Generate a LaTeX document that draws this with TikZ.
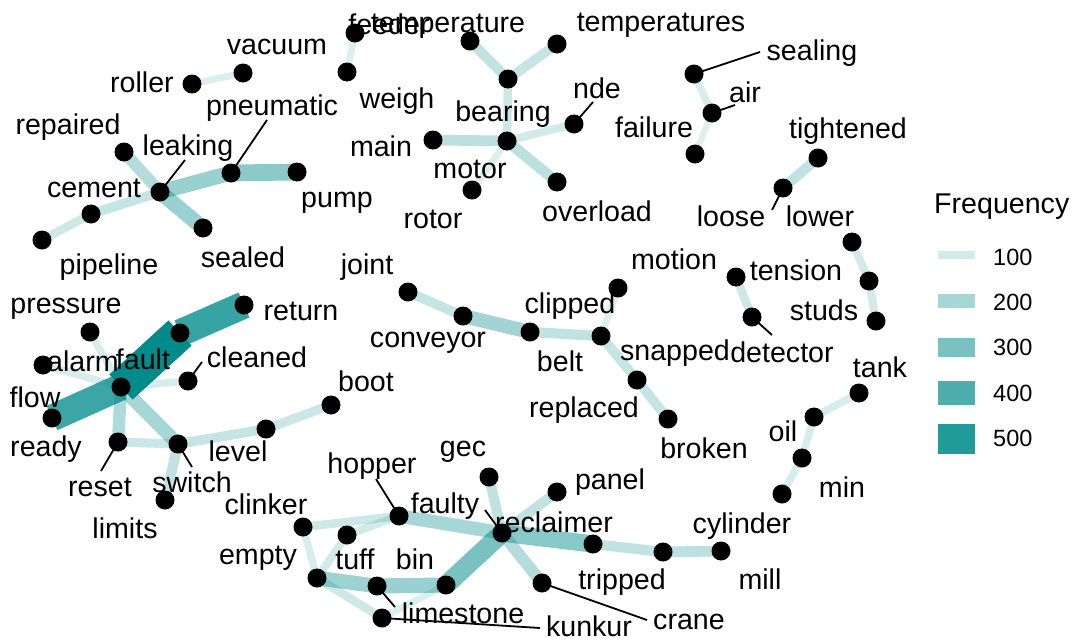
\documentclass[tikz,border=0pt]{standalone}
\usepackage{fontspec}
\setmainfont{Liberation Sans}
\definecolor{dc}{RGB}{0,139,139}
\begin{document}
\begin{tikzpicture}[x=1pt,y=-1pt,
  fq/.code={\pgfmathsetmacro\fqw{2.5+0.055*#1}\pgfmathsetmacro\fqo{min(1,0.00174*#1)}\edef\fqtmp{\noexpand\pgfkeysalso{/tikz/line width=\fqw pt,/tikz/draw opacity=\fqo}}\fqtmp},
  ed/.style={draw=dc,line cap=butt},
  pt/.style={circle,fill=black,inner sep=0pt,minimum size=19pt},
  lb/.style={inner sep=0pt,font=\fontsize{28.6}{30}\selectfont},
  lg/.style={inner sep=0pt,anchor=west,font=\fontsize{23.5}{25}\selectfont},
  ld/.style={draw=black,line width=1.8pt},
]
\fill[white] (0,0) rectangle (1077,640);
\useasboundingbox (0,0) rectangle (1077,640);
% ---------- node positions ----------
\coordinate (pipeline) at (42,240);
\coordinate (cement) at (91,214);
\coordinate (leaking) at (160,192);
\coordinate (pneumatic) at (231,173);
\coordinate (pump) at (297,172);
\coordinate (repaired) at (124,152);
\coordinate (sealed) at (203,228);
\coordinate (roller) at (192,84);
\coordinate (vacuum) at (243,73);
\coordinate (feeder) at (355,33);
\coordinate (weigh) at (347,72);
\coordinate (temperature) at (470,41);
\coordinate (temperatures) at (557,44);
\coordinate (bearing) at (508,79);
\coordinate (motor) at (507,141);
\coordinate (main) at (433,140);
\coordinate (nde) at (574,124);
\coordinate (rotor) at (472,190);
\coordinate (overload) at (557,182);
\coordinate (sealing) at (694,74);
\coordinate (air) at (712,113);
\coordinate (failure) at (695,154);
\coordinate (tightened) at (818,158);
\coordinate (loose) at (783,188);
\coordinate (lower) at (852,242);
\coordinate (lowerb) at (869,281);
\coordinate (studs) at (876,321);
\coordinate (tension) at (736,277);
\coordinate (detector) at (752,317);
\coordinate (tank) at (859,393);
\coordinate (oil) at (814,417);
\coordinate (minn) at (802,458);
\coordinate (cylinder) at (782,494);
\coordinate (joint) at (408,292);
\coordinate (conveyor) at (463,316);
\coordinate (belt) at (530,332);
\coordinate (clipped) at (601,336);
\coordinate (motion) at (618,288);
\coordinate (snapped) at (637,380);
\coordinate (broken) at (668,419);
\coordinate (return) at (244,305);
\coordinate (fault) at (180,333);
\coordinate (hubA) at (121,387);
\coordinate (pressure) at (90,332);
\coordinate (alarm) at (43,365);
\coordinate (cleaned) at (188,381);
\coordinate (ready) at (52,418);
\coordinate (reset) at (118,442);
\coordinate (switch) at (178,444);
\coordinate (limits) at (165,500);
\coordinate (level) at (266,429);
\coordinate (boot) at (331,405);
\coordinate (clinker) at (303,527);
\coordinate (hopper) at (399,516);
\coordinate (tuff) at (347,535);
\coordinate (empty) at (317,578);
\coordinate (bin) at (377,586);
\coordinate (limestone) at (446,585);
\coordinate (kunkur) at (382,618);
\coordinate (faulty) at (502,533);
\coordinate (gec) at (489,477);
\coordinate (panel) at (557,492);
\coordinate (recl) at (593,544);
\coordinate (millA) at (663,552);
\coordinate (mill) at (721,551);
\coordinate (crane) at (542,583);
% ---------- edges ----------
\draw[ed,fq=80] (roller) -- (vacuum);
\draw[ed,fq=80] (feeder) -- (weigh);
\draw[ed,fq=110] (pipeline) -- (cement);
\draw[ed,fq=130] (cement) -- (leaking);
\draw[ed,fq=230] (leaking) -- (pneumatic);
\draw[ed,fq=260] (pneumatic) -- (pump);
\draw[ed,fq=170] (repaired) -- (leaking);
\draw[ed,fq=230] (leaking) -- (sealed);
\draw[ed,fq=140] (temperature) -- (bearing);
\draw[ed,fq=130] (temperatures) -- (bearing);
\draw[ed,fq=110] (bearing) -- (motor);
\draw[ed,fq=150] (main) -- (motor);
\draw[ed,fq=100] (motor) -- (nde);
\draw[ed,fq=80] (motor) -- (rotor);
\draw[ed,fq=150] (motor) -- (overload);
\draw[ed,fq=90] (sealing) -- (air);
\draw[ed,fq=70] (air) -- (failure);
\draw[ed,fq=140] (loose) -- (tightened);
\draw[ed,fq=100] (lower) -- (lowerb);
\draw[ed,fq=100] (lowerb) -- (studs);
\draw[ed,fq=110] (tension) -- (detector);
\draw[ed,fq=90] (tank) -- (oil);
\draw[ed,fq=90] (oil) -- (minn);
\draw[ed,fq=90] (minn) -- (cylinder);
\draw[ed,fq=130] (joint) -- (conveyor);
\draw[ed,fq=210] (conveyor) -- (belt);
\draw[ed,fq=140] (belt) -- (clipped);
\draw[ed,fq=80] (clipped) -- (motion);
\draw[ed,fq=130] (clipped) -- (snapped);
\draw[ed,fq=130] (snapped) -- (broken);
\draw[ed,fq=90] (hubA) -- (pressure);
\draw[ed,fq=90] (hubA) -- (alarm);
\draw[ed,fq=90] (hubA) -- (cleaned);
\draw[ed,fq=180] (hubA) -- (reset);
\draw[ed,fq=200] (hubA) -- (switch);
\draw[ed,fq=120] (reset) -- (switch);
\draw[ed,fq=140] (switch) -- (limits);
\draw[ed,fq=130] (switch) -- (level);
\draw[ed,fq=120] (level) -- (boot);
\draw[ed,fq=450] (return) -- (fault);
\draw[ed,fq=440] (hubA) -- (ready);
\draw[ed,fq=575] (fault) -- (hubA);
\draw[ed,fq=110] (clinker) -- (hopper);
\draw[ed,fq=90] (clinker) -- (empty);
\draw[ed,fq=100] (tuff) -- (hopper);
\draw[ed,fq=100] (tuff) -- (empty);
\draw[ed,fq=220] (empty) -- (bin);
\draw[ed,fq=110] (empty) -- (kunkur);
\draw[ed,fq=230] (bin) -- (limestone);
\draw[ed,fq=80] (kunkur) -- (limestone);
\draw[ed,fq=300] (limestone) -- (faulty);
\draw[ed,fq=200] (hopper) -- (faulty);
\draw[ed,fq=140] (gec) -- (faulty);
\draw[ed,fq=140] (panel) -- (faulty);
\draw[ed,fq=270] (faulty) -- (recl);
\draw[ed,fq=140] (recl) -- (millA);
\draw[ed,fq=150] (millA) -- (mill);
\draw[ed,fq=170] (faulty) -- (crane);
% ---------- label leaders ----------
\coordinate (q-leaking) at (185,160);
\coordinate (q-pneumatic) at (267,120);
\coordinate (q-nde) at (593,102);
\coordinate (q-sealing) at (760,52);
\coordinate (q-air) at (735,105);
\coordinate (q-loose) at (772,210);
\coordinate (q-cleaned) at (202,362);
\coordinate (q-reset) at (101,471);
\coordinate (q-switch) at (192,467);
\coordinate (q-detector) at (772,335);
\coordinate (q-hopper) at (376,479);
\coordinate (q-faulty) at (485,510);
\coordinate (q-limestone) at (395,607);
\coordinate (q-kunkur) at (540,628);
\coordinate (q-crane) at (647,620);
\draw[ld] (q-leaking) -- (leaking);
\draw[ld] (q-pneumatic) -- (pneumatic);
\draw[ld] (q-nde) -- (nde);
\draw[ld] (q-sealing) -- (sealing);
\draw[ld] (q-air) -- (air);
\draw[ld] (q-loose) -- (loose);
\draw[ld] (q-cleaned) -- (cleaned);
\draw[ld] (q-reset) -- (reset);
\draw[ld] (q-switch) -- (switch);
\draw[ld] (q-detector) -- (detector);
\draw[ld] (q-hopper) -- (hopper);
\draw[ld] (q-faulty) -- (faulty);
\draw[ld] (q-limestone) -- (bin);
\draw[ld] (q-kunkur) -- (kunkur);
\draw[ld] (q-crane) -- (crane);
% ---------- points ----------
\foreach \n in {pipeline,cement,leaking,pneumatic,pump,repaired,sealed,roller,vacuum,feeder,weigh,
  temperature,temperatures,bearing,motor,main,nde,rotor,overload,sealing,air,failure,tightened,loose,
  lower,lowerb,studs,tension,detector,tank,oil,minn,cylinder,joint,conveyor,belt,clipped,motion,snapped,broken,
  return,fault,hubA,pressure,alarm,cleaned,ready,reset,switch,limits,level,boot,
  clinker,hopper,tuff,empty,bin,limestone,kunkur,faulty,gec,panel,recl,millA,mill,crane}
  {\node[pt] (d-\n) at (\n) {};}
% ---------- labels ----------
\node[lb] (t-vacuum) at (277,47) {vacuum};
\node[lb] (t-roller) at (142,82) {roller};
\node[lb] (t-pneumatic) at (272,108) {pneumatic};
\node[lb] (t-repaired) at (68,127) {repaired};
\node[lb] (t-leaking) at (188,148) {leaking};
\node[lb] (t-cement) at (94,188) {cement};
\node[lb] (t-pump) at (337,203) {pump};
\node[lb] (t-sealed) at (243,257) {sealed};
\node[lb] (t-pipeline) at (109,267) {pipeline};
\node[lb] (t-feeder) at (389,24) {feeder};
\node[lb] (t-temperature) at (448,26) {temperature};
\node[lb] (t-temperatures) at (661,25) {temperatures};
\node[lb] (t-weigh) at (397,101) {weigh};
\node[lb] (t-main) at (381,146) {main};
\node[lb] (t-bearing) at (503,114) {bearing};
\node[lb] (t-nde) at (597,88) {nde};
\node[lb] (t-motor) at (470,169) {motor};
\node[lb] (t-rotor) at (433,219) {rotor};
\node[lb] (t-overload) at (597,211) {overload};
\node[lb] (t-sealing) at (812,53) {sealing};
\node[lb] (t-air) at (745,92) {air};
\node[lb] (t-failure) at (654,127) {failure};
\node[lb] (t-tightened) at (848,131) {tightened};
\node[lb] (t-loose) at (731,216) {loose};
\node[lb] (t-lower) at (820,216) {lower};
\node[lb] (t-motion) at (674,259) {motion};
\node[lb] (t-tension) at (796,270) {tension};
\node[lb] (t-studs) at (824,310) {studs};
\node[lb] (t-detector) at (782,352) {detector};
\node[lb] (t-snapped) at (675,353) {snapped};
\node[lb] (t-tank) at (880,367) {tank};
\node[lb] (t-oil) at (783,431) {oil};
\node[lb] (t-broken) at (704,448) {broken};
\node[lb] (t-min) at (842,487) {min};
\node[lb] (t-cylinder) at (742,526) {cylinder};
\node[lb] (t-mill) at (760,579) {mill};
\node[lb] (t-joint) at (367,267) {joint};
\node[lb] (t-conveyor) at (428,343) {conveyor};
\node[lb] (t-clipped) at (570,306) {clipped};
\node[lb] (t-belt) at (560,361) {belt};
\node[lb] (t-replaced) at (584,410) {replaced};
\node[lb] (t-pressure) at (66,309) {pressure};
\node[lb] (t-alarm) at (83,361) {alarm};
\node[lb] (t-fault) at (143,359) {fault};
\node[lb] (t-cleaned) at (257,357) {cleaned};
\node[lb] (t-return) at (301,311) {return};
\node[lb] (t-flow) at (35,397) {flow};
\node[lb] (t-ready) at (46,449) {ready};
\node[lb] (t-boot) at (366,381) {boot};
\node[lb] (t-level) at (238,451) {level};
\node[lb] (t-reset) at (100,487) {reset};
\node[lb] (t-switch) at (192,482) {switch};
\node[lb] (t-limits) at (125,528) {limits};
\node[lb] (t-clinker) at (266,504) {clinker};
\node[lb] (t-gec) at (463,452) {gec};
\node[lb] (t-hopper) at (372,466) {hopper};
\node[lb] (t-panel) at (610,482) {panel};
\node[lb] (t-faulty) at (445,506) {faulty};
\node[lb] (t-reclaimer) at (554,522) {reclaimer};
\node[lb] (t-empty) at (258,558) {empty};
\node[lb] (t-tuff) at (355,559) {tuff};
\node[lb] (t-bin) at (415,559) {bin};
\node[lb] (t-tripped) at (622,582) {tripped};
\node[lb] (t-limestone) at (463,613) {limestone};
\node[lb] (t-kunkur) at (589,626) {kunkur};
\node[lb] (t-crane) at (689,622) {crane};
% ---------- legend ----------
\node[lb,anchor=west] (t-freq) at (934,207) {Frequency};
\foreach \v/\y/\ty in {100/255/257,200/301/302,300/347/347,400/393/393,500/439/438}{
  \coordinate (ka-\v) at (938,\y);
  \coordinate (kb-\v) at (975,\y);
  \draw[ed,fq=\v] (ka-\v) -- (kb-\v);
  \node[lg] (kl-\v) at (993,\ty) {\v};
}
\end{tikzpicture}
\end{document}
